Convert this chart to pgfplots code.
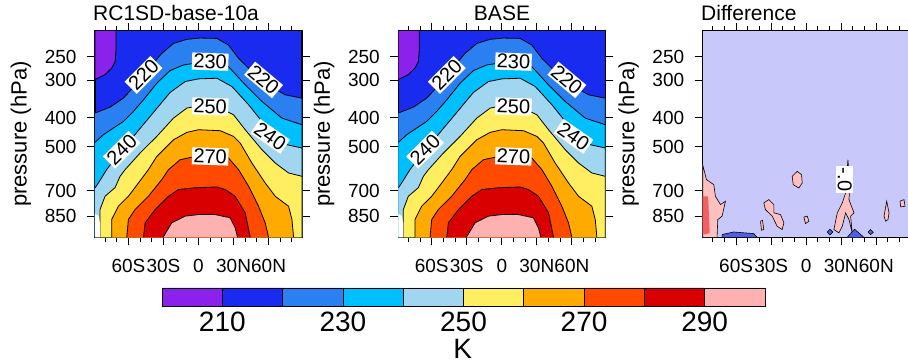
\documentclass[border=0pt]{standalone}
\usepackage{fontspec}
\setmainfont{Liberation Sans}
\usepackage{pgfplots}
\usepackage{pgfplotstable}
\pgfplotsset{compat=1.18}

\definecolor{c0}{RGB}{138,34,235}
\definecolor{c1}{RGB}{26,43,240}
\definecolor{c2}{RGB}{42,128,240}
\definecolor{c3}{RGB}{0,191,255}
\definecolor{c4}{RGB}{160,214,240}
\definecolor{c5}{RGB}{255,238,96}
\definecolor{c6}{RGB}{255,170,0}
\definecolor{c7}{RGB}{255,74,0}
\definecolor{c8}{RGB}{216,0,0}
\definecolor{c9}{RGB}{255,176,176}
\definecolor{dbg}{RGB}{200,200,250}
\definecolor{dpink}{RGB}{255,192,192}
\definecolor{dred}{RGB}{240,96,96}
\definecolor{dblue}{RGB}{80,96,230}

% regions above each temperature contour (K): lat, pressure (hPa)
\pgfplotstableread{
lat p
-88.6 385.5
-75.7 368.3
-64.3 343.8
-55.7 316
-47.1 287.6
-38.6 263.1
-31.4 243.7
-21.4 225.9
-10 218.9
1.4 216.7
15.7 217.3
25.7 228.8
34.3 253.2
44.3 276.7
55.4 298.8
64.3 318.4
74.3 335
88.6 343.8
88.6 1000
-88.6 1000
}\cA
\pgfplotstableread{
lat p
-88.6 482.7
-81.4 455.2
-72.9 432.5
-64.3 411
-55.7 380.6
-47.1 348.2
-35.7 306.5
-24.3 278.2
-12.9 266.5
0 261.8
15.7 263.1
25.7 269.9
40 310.4
54.3 352.7
71.4 400.6
88.6 421.5
88.6 1000
-88.6 1000
}\cB
\pgfplotstableread{
lat p
-88.6 684.6
-85.7 659
-78.6 595
-65.7 510.6
-55.7 461
-41.4 395.5
-24.3 329.1
-11.4 302.6
0 296.5
15.7 295
28.6 314.4
42.9 361.7
54.3 411
62.9 461
75.7 491.4
88.6 504
88.6 1000
-88.6 1000
}\cC
\pgfplotstableread{
lat p
-84.3 1000
-84.3 808
-80 730
-71.4 683
-67.1 626
-62.8 595
-50 523.8
-35.7 461
-21.4 400.6
-10 371
0 364.5
15.7 366.4
30 390.5
40 438
54.3 510.6
65.7 565.5
77.1 610.4
88.6 626.2
88.6 1000
}\cD
\pgfplotstableread{
lat p
-74.3 1000
-74.3 872
-68.6 788
-60 730
-51.4 659
-42.9 595
-35.7 537.4
-21.4 473
-10 447
0 438
18.6 441.3
30 461
35.7 485.2
45.7 565.5
57.1 659
65.7 730
77.1 788
80 872.7
81.4 1000
}\cE
\pgfplotstableread{
lat p
-61.4 1000
-60 872
-54.3 808
-42.9 730
-31.4 642
-25.7 595
-15.7 551.3
0 534.7
15.7 537.4
25.7 544.2
34.3 595
42.9 676
51.4 788
57.1 895.3
60 1000
}\cF
\pgfplotstableread{
lat p
-47.1 1000
-45.7 895
-37.1 808
-25.7 730
-17.1 693
-2.9 684
15.7 679.4
22.9 693.5
31.4 730
40 829.4
42.9 942
44.3 1000
}\cG
\pgfplotstableread{
lat p
-30.3 1000
-22.9 895
-11.4 850
0 840
14.3 840
27.1 861
31.4 930
33.4 1000
}\cH
\pgfplotstableread{
lat p
-70.6 205
-70.6 237.6
-71.4 259.7
-74.3 273
-80 287
-88.6 298
-88.6 205
}\cP
\pgfplotstableread{
lat p
-88.6 835
-85.5 850
-84.3 900
-84.3 1000
-88.6 1000
}\cW

\tikzset{clab/.style={fill=white, inner sep=1.5pt, font=\fontsize{20}{20}\selectfont}}

\newcommand{\drawfield}{%
  \addplot[fill=c2, draw=black, line width=0.8pt] table {\cA};
  \addplot[fill=c3, draw=black, line width=0.8pt] table {\cB};
  \addplot[fill=c4, draw=black, line width=0.8pt] table {\cC};
  \addplot[fill=c5, draw=black, line width=0.8pt] table {\cD};
  \addplot[fill=c6, draw=black, line width=0.8pt] table {\cE};
  \addplot[fill=c7, draw=black, line width=0.8pt] table {\cF};
  \addplot[fill=c8, draw=black, line width=0.8pt] table {\cG};
  \addplot[fill=c9, draw=black, line width=0.8pt] table {\cH};
  \addplot[fill=c0, draw=black, line width=0.8pt] table {\cP};
  \addplot[fill=white, draw=none] table {\cW};
  \node[clab, rotate=45] at (axis cs:-47.1,287.6) {220};
  \node[clab, rotate=-2] at (axis cs:10,259.7) {230};
  \node[clab, rotate=-40] at (axis cs:55.7,298.8) {220};
  \node[clab, rotate=-2] at (axis cs:10,366.4) {250};
  \node[clab, rotate=45] at (axis cs:-65.7,510.6) {240};
  \node[clab, rotate=-35] at (axis cs:61.4,461) {240};
  \node[clab, rotate=-2] at (axis cs:10,537.4) {270};
}

\pgfplotsset{
  tzpanel/.style={
    scale only axis, width=207pt, height=206.5pt,
    xmin=-88.6, xmax=88.6, ymin=205, ymax=1000,
    xtick={-60,-30,0,30,60}, xticklabels={60S,30S,0,30N,60N},
    minor xtick={-80,-70,-50,-40,-20,-10,10,20,40,50,70,80},
    ytick={250,300,400,500,700,850}, yticklabels={250,300,400,500,700,850},
    tick align=outside, major tick length=8pt, minor tick length=4.5pt,
    tick style={black, line width=1pt},
    axis line style={line width=1.2pt},
    tick label style={font=\fontsize{19}{19}\selectfont},
    xticklabel style={yshift=-10pt},
    yticklabel style={xshift=-7pt},
    ylabel={pressure (hPa)},
    ylabel style={at={(axis description cs:-0.3575,0.5)}, anchor=center, font=\fontsize{22}{22}\selectfont},
    no marks,
  },
}

\begin{document}
\begin{tikzpicture}
\useasboundingbox (0,0) rectangle (908pt,364pt);

\begin{axis}[ymode=log, y dir=reverse, yminorticks=false, tzpanel, at={(95pt,126.7pt)}, anchor=south west, axis background/.style={fill=c1}]
\drawfield
\end{axis}

\begin{axis}[ymode=log, y dir=reverse, yminorticks=false, tzpanel, at={(398.3pt,126.7pt)}, anchor=south west, axis background/.style={fill=c1}]
\drawfield
\end{axis}

\begin{axis}[ymode=log, y dir=reverse, yminorticks=false, tzpanel, at={(702.7pt,126.7pt)}, anchor=south west, axis background/.style={fill=dbg}]
  \addplot[fill=dpink, draw=black, line width=0.6pt] coordinates {(-88.6,572.7) (-85.4,642.4) (-79.1,667.5) (-77.7,730) (-73.4,778) (-69.1,758.4) (-72,850) (-75.7,872.7) (-76.3,1000) (-88.6,1000) (-88.6,572.7)};
  \addplot[fill=dred, draw=none] coordinates {(-88.6,730) (-84,730) (-82.6,966.6) (-86.9,979) (-88.6,966)};
  \addplot[fill=dpink, draw=black, line width=0.6pt] coordinates {(-12,626) (-7.7,603) (-4,618) (-3.4,659) (-6.3,685) (-11.1,667.5) (-12,626)};
  \addplot[fill=dpink, draw=black, line width=0.6pt] coordinates {(-36.3,768) (-32,749) (-27.7,778) (-27.7,829) (-22,840) (-19.1,895) (-20.6,942) (-24.9,918.5) (-29.1,850) (-34.9,808.5) (-36.3,768)};
  \addplot[fill=dpink, draw=black, line width=0.6pt] coordinates {(-39.1,884) (-37.4,878) (-36.3,942) (-38.3,947) (-39.1,884)};
  \addplot[fill=dpink, draw=black, line width=0.6pt] coordinates {(-2,856) (0.9,850) (2.3,884) (-0.6,900) (-2,856)};
  \addplot[fill=dpink, draw=black, line width=0.6pt] coordinates {(23.7,942) (26.6,829) (30.9,768) (33.7,711.5) (35.7,551) (37.4,676) (36.6,749) (40.9,829) (38,850) (39.4,966.6) (36.6,872.7) (33.7,829) (30.9,918.5) (28,966.6) (23.7,942)};
  \addplot[fill=dpink, draw=black, line width=0.6pt] coordinates {(66.6,850) (68.9,758) (70.9,829) (70,873) (68,884) (66.6,850)};
  \addplot[fill=dpink, draw=black, line width=0.6pt] coordinates {(80.3,758) (83.7,749) (84.6,788) (80.9,792) (80.3,758)};
  \addplot[fill=dblue, draw=black, line width=0.6pt] coordinates {(-72,979) (-62,960) (-44.9,972) (-42,1000) (-72,1000) (-72,979)};
  \addplot[fill=dblue, draw=black, line width=0.6pt] coordinates {(18,960) (20.3,940) (22.9,960) (20.3,982) (18,960)};
  \addplot[fill=dblue, draw=black, line width=0.6pt] coordinates {(35.1,1000) (41.4,940) (49.4,1000)};
  \addplot[fill=dblue, draw=black, line width=0.6pt] coordinates {(52.9,960) (55.1,942) (57.4,963) (55.1,979) (52.9,960)};
  \node[clab, rotate=-90] at (axis cs:33.1,642) {-.0};
\end{axis}

% colorbar
\begin{axis}[at={(162pt,58pt)}, anchor=south west, scale only axis, width=603pt, height=18pt,
  xmin=200, xmax=300, ymin=0, ymax=1,
  xtick={210,230,250,270,290}, xticklabels={210,230,250,270,290},
  ytick=\empty, major tick length=0pt, xtick style={draw=none},
  xticklabel style={font=\fontsize{28}{28}\selectfont, inner sep=0pt, yshift=-6pt},
  axis line style={line width=0.8pt}, no marks]
  \addplot[fill=c0, draw=black, line width=0.8pt] coordinates {(200,0) (210,0) (210,1) (200,1) (200,0)};
  \addplot[fill=c1, draw=black, line width=0.8pt] coordinates {(210,0) (220,0) (220,1) (210,1) (210,0)};
  \addplot[fill=c2, draw=black, line width=0.8pt] coordinates {(220,0) (230,0) (230,1) (220,1) (220,0)};
  \addplot[fill=c3, draw=black, line width=0.8pt] coordinates {(230,0) (240,0) (240,1) (230,1) (230,0)};
  \addplot[fill=c4, draw=black, line width=0.8pt] coordinates {(240,0) (250,0) (250,1) (240,1) (240,0)};
  \addplot[fill=c5, draw=black, line width=0.8pt] coordinates {(250,0) (260,0) (260,1) (250,1) (250,0)};
  \addplot[fill=c6, draw=black, line width=0.8pt] coordinates {(260,0) (270,0) (270,1) (260,1) (260,0)};
  \addplot[fill=c7, draw=black, line width=0.8pt] coordinates {(270,0) (280,0) (280,1) (270,1) (270,0)};
  \addplot[fill=c8, draw=black, line width=0.8pt] coordinates {(280,0) (290,0) (290,1) (280,1) (280,0)};
  \addplot[fill=c9, draw=black, line width=0.8pt] coordinates {(290,0) (300,0) (300,1) (290,1) (290,0)};
\end{axis}

% titles and unit
\node[anchor=base west, font=\fontsize{21}{21}\selectfont, inner sep=0pt] at (93pt,343.3pt) {RC1SD-base-10a};
\node[anchor=base, font=\fontsize{21}{21}\selectfont, inner sep=0pt] at (502pt,343.3pt) {BASE};
\node[anchor=base west, font=\fontsize{21}{21}\selectfont, inner sep=0pt] at (701pt,343.3pt) {Difference};
\node[anchor=center, font=\fontsize{28}{28}\selectfont, inner sep=0pt] at (462.7pt,15pt) {K};
\end{tikzpicture}
\end{document}
